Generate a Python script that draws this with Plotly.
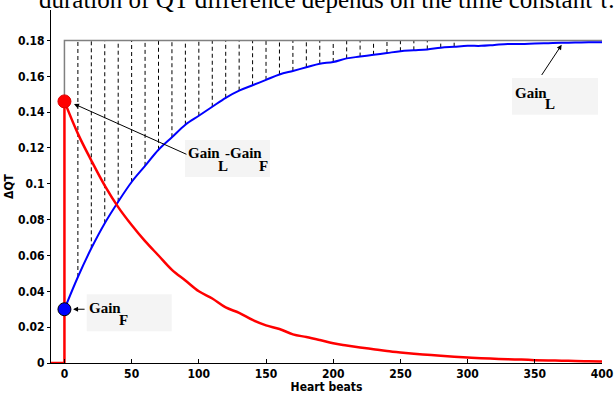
import plotly.graph_objects as go

# ---- data ----
beats = list(range(0, 401, 10))
gain_curve_L = [0.030, 0.048, 0.064, 0.078, 0.090, 0.101, 0.110, 0.119, 0.126, 0.133,
                0.138, 0.143, 0.148, 0.152, 0.155, 0.158, 0.161, 0.163, 0.165, 0.167,
                0.168, 0.170, 0.171, 0.172, 0.173, 0.174, 0.1745, 0.175, 0.176, 0.1765,
                0.177, 0.177, 0.1775, 0.178, 0.178, 0.1783, 0.1785, 0.1787, 0.1788, 0.179,
                0.179]
diff_curve = [0.146, 0.128, 0.113, 0.099, 0.087, 0.077, 0.068, 0.060, 0.052, 0.046,
              0.040, 0.036, 0.031, 0.028, 0.024, 0.021, 0.019, 0.016, 0.0145, 0.0128,
              0.011, 0.0098, 0.0087, 0.0077, 0.0067, 0.0059, 0.0052, 0.0046, 0.004, 0.0035,
              0.0031, 0.0027, 0.0024, 0.0021, 0.0019, 0.0016, 0.0014, 0.0013, 0.0011, 0.001,
              0.0009]
lead_beats = [-10, 0, 0]
lead_values = [0.0, 0.0, 0.146]
gain_L = 0.18
gain_F = 0.03
gain_diff0 = 0.146
hatch_last_beat = 290
x_ticks = [0, 50, 100, 150, 200, 250, 300, 350, 400]
y_ticks = [0, 0.02, 0.04, 0.06, 0.08, 0.1, 0.12, 0.14, 0.16, 0.18]
y_tick_text = ["0", "0.02", "0.04", "0.06", "0.08", "0.1", "0.12", "0.14", "0.16", "0.18"]
caption = "duration of QT difference depends on the time constant τ."

TICKFONT = dict(family="Liberation Sans Narrow, DejaVu Sans Condensed, Arial Narrow, sans-serif",
                size=12, color="black")
SERIF = "Liberation Serif, Times New Roman, serif"

fig = go.Figure()

# hatching between blue curve and Gain_L
hx, hy = [], []
for b, v in zip(beats, gain_curve_L):
    if 0 < b <= hatch_last_beat:
        hx += [b, b, None]
        hy += [v, gain_L, None]
fig.add_trace(go.Scatter(x=hx, y=hy, mode="lines",
                         line=dict(color="black", width=1, dash="4px,3px"),
                         hoverinfo="skip", showlegend=False))

# gray boundary (Gain_L level and left edge)
fig.add_trace(go.Scatter(x=[beats[0], beats[0], beats[-1]], y=[gain_diff0, gain_L, gain_L],
                         mode="lines", line=dict(color="#808080", width=1.5),
                         showlegend=False))

# blue curve
fig.add_trace(go.Scatter(x=beats, y=gain_curve_L, mode="lines", line_shape="spline",
                         line=dict(color="#0000ff", width=2), showlegend=False))

# red curve (lead-in step + decay)
fig.add_trace(go.Scatter(x=lead_beats, y=lead_values, mode="lines",
                         line=dict(color="#ff0000", width=2.5), showlegend=False))
fig.add_trace(go.Scatter(x=beats, y=diff_curve, mode="lines", line_shape="spline",
                         line=dict(color="#ff0000", width=2.5), showlegend=False))

# markers
fig.add_trace(go.Scatter(x=[beats[0]], y=[gain_diff0], mode="markers",
                         marker=dict(color="#ff0000", size=13, line=dict(color="#dd0000", width=1)),
                         showlegend=False))
fig.add_trace(go.Scatter(x=[beats[0]], y=[gain_F], mode="markers",
                         marker=dict(color="#0000ff", size=13, line=dict(color="black", width=1)),
                         showlegend=False))

ann = []
shapes = []


def arrow(tip_x, tip_y, tail_x, tail_y):
    return dict(x=tip_x, y=tip_y, ax=tail_x, ay=tail_y, xref="x", yref="y",
                axref="x", ayref="y", text="", showarrow=True, arrowhead=2,
                arrowsize=1, arrowwidth=1, arrowcolor="black")


ann.append(arrow(7.1, 0.1446, 91.9, 0.1161))
ann.append(arrow(6.4, gain_F, 16.1, gain_F))
ann.append(arrow(370, 0.1776, 354.4, 0.1599))


def box(x0, x1, y0, y1):
    return dict(type="rect", xref="x", yref="y", x0=x0, x1=x1, y0=y0, y1=y1,
                fillcolor="#f4f4f4", line=dict(width=0), layer="below")


def piece(text, x, y):
    return dict(x=x, y=y, xref="x", yref="y", text=f"<b>{text}</b>", showarrow=False,
                xanchor="left", yanchor="middle", borderpad=0,
                font=dict(family=SERIF, size=15, color="black"))


# Gain_L - Gain_F label
shapes.append(box(89.7, 153.0, 0.1038, 0.1245))
ann += [piece("Gain", 91.2, 0.1173), piece("L", 113.2, 0.1100),
        piece("-Gain", 119.0, 0.1173), piece("F", 143.9, 0.1100)]
# Gain_F label
shapes.append(box(16.6, 79.8, 0.0177, 0.0384))
ann += [piece("Gain", 17.6, 0.0306), piece("F", 39.6, 0.0239)]
# Gain_L label
shapes.append(box(333.0, 397.0, 0.1385, 0.1591))
ann += [piece("Gain", 334.5, 0.1508), piece("L", 356.5, 0.1446)]

# caption from the page above, cut off at the top
ann.append(dict(x=0.5, y=1.030, xref="paper", yref="paper", text=caption,
                showarrow=False, xanchor="center", yanchor="middle",
                font=dict(family=SERIF, size=25, color="black")))

fig.update_layout(
    width=616, height=394,
    margin=dict(l=51, r=14, t=10, b=31),
    paper_bgcolor="white", plot_bgcolor="white",
    annotations=ann, shapes=shapes,
    xaxis=dict(range=[-10, 400], tickvals=x_ticks,
               ticktext=[f"<b>{t}</b>" for t in x_ticks],
               ticks="inside", ticklen=4, automargin=False,
               tickcolor="black", showline=True, linecolor="black", linewidth=1,
               showgrid=False, zeroline=False, tickfont=TICKFONT,
               title=dict(text="<b>Heart beats</b>", font=TICKFONT, standoff=2)),
    yaxis=dict(range=[0, 0.197], tickvals=y_ticks, ticktext=[f"<b>{t}</b>" for t in y_tick_text],
               ticks="outside", ticklen=3, tickcolor="black", showline=True,
               linecolor="black", linewidth=1, showgrid=False, zeroline=False,
               automargin=False, tickfont=TICKFONT,
               title=dict(text="<b>ΔQT</b>", font=TICKFONT, standoff=1)),
)

fig.write_html("out.html", config={"displayModeBar": False},
               post_script="document.body.style.margin='0px';document.body.style.overflow='hidden';")
